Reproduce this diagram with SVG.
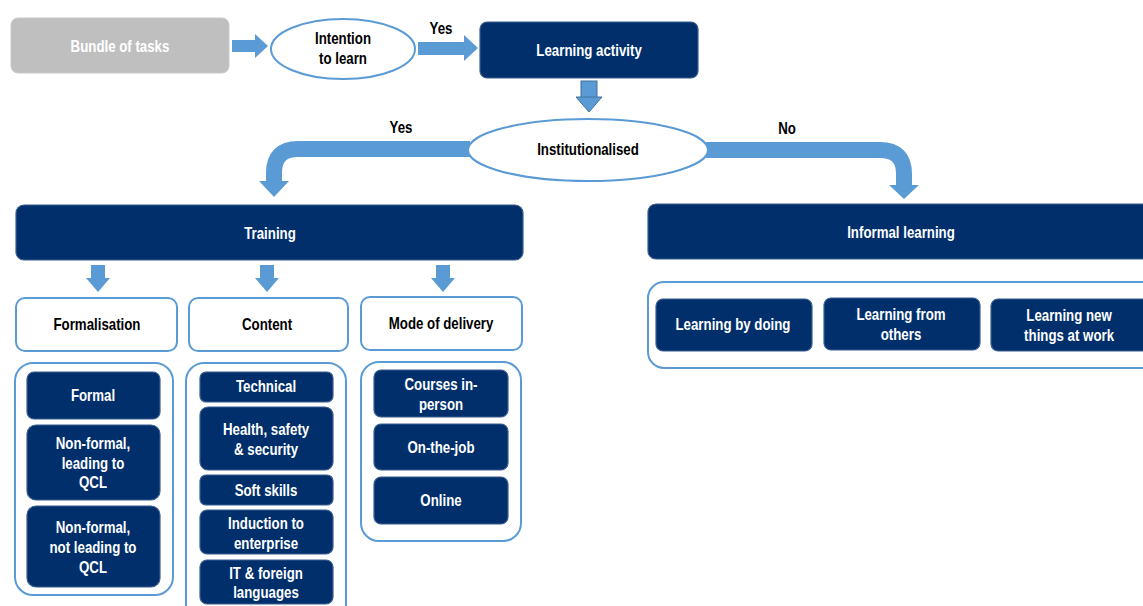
<svg xmlns="http://www.w3.org/2000/svg" width="1143" height="606" viewBox="0 0 1143 606">
  <style>
    text { font-family: "Liberation Sans", Arial, sans-serif; font-weight: bold; font-size: 16px; text-anchor: middle;
           transform-box: fill-box; transform-origin: center; transform: scaleX(0.83); }
    .navy { fill: #002F6C; stroke: #3A5F8F; stroke-width: 1.2; }
    .grey { fill: #BFBFBF; stroke: #C8C8C8; stroke-width: 1; }
    .outline { fill: #FFFFFF; stroke: #5B9BD5; stroke-width: 2; }
    .wt { fill: #FFFFFF; }
    .bk { fill: #000000; }
    .shaft { fill: none; stroke: #5B9BD5; stroke-width: 16; }
    .head { fill: #5B9BD5; }
  </style>
  <rect width="1143" height="606" fill="#FFFFFF"/>

  <!-- connectors -->
  <g id="connectors">
    <!-- bundle -> intention -->
    <rect class="head" x="232" y="40" width="24" height="12"/>
    <polygon class="head" points="255,34 255,58 268,46"/>
    <!-- intention -> learning activity -->
    <rect class="head" x="418" y="42" width="47" height="13"/>
    <polygon class="head" points="464,35 464,61 478,48"/>
    <text class="bk" x="441" y="34">Yes</text>
    <!-- learning activity -> institutionalised -->
    <rect class="head" x="581" y="81" width="16" height="17" stroke="#41719C" stroke-width="1"/>
    <polygon class="head" points="576,97 602,97 589,112" stroke="#41719C" stroke-width="1"/>
    <!-- institutionalised: yes -> training -->
    <path class="shaft" d="M 470 149 H 298 Q 274 149 274 173 V 182"/>
    <polygon class="head" points="259,181 289,181 274,197"/>
    <text class="bk" x="401" y="133">Yes</text>
    <!-- institutionalised: no -> informal learning -->
    <path class="shaft" d="M 706 150 H 880 Q 904 150 904 174 V 186"/>
    <polygon class="head" points="889,185 919,185 904,199"/>
    <text class="bk" x="787" y="134">No</text>
    <!-- training -> categories -->
    <rect class="head" x="91" y="265" width="14" height="14"/>
    <polygon class="head" points="86,278 110,278 98,292"/>
    <rect class="head" x="260" y="265" width="14" height="14"/>
    <polygon class="head" points="255,278 279,278 267,292"/>
    <rect class="head" x="436" y="265" width="14" height="14"/>
    <polygon class="head" points="431,278 455,278 443,292"/>
  </g>

  <g id="bundle">
    <rect class="grey" x="11" y="18" width="218" height="55" rx="7"/>
    <text class="wt" x="120" y="52">Bundle of tasks</text>
  </g>

  <g id="intention">
    <ellipse class="outline" cx="343" cy="49" rx="72" ry="30"/>
    <text class="bk" x="343" y="44">Intention</text>
    <text class="bk" x="343" y="64">to learn</text>
  </g>

  <g id="learning-activity">
    <rect class="navy" x="480" y="22" width="218" height="56" rx="7"/>
    <text class="wt" x="589" y="56">Learning activity</text>
  </g>

  <g id="institutionalised">
    <ellipse class="outline" cx="588" cy="150" rx="120" ry="31"/>
    <text class="bk" x="588" y="155">Institutionalised</text>
  </g>

  <g id="training">
    <rect class="navy" x="16" y="205" width="507" height="55" rx="8"/>
    <text class="wt" x="270" y="239">Training</text>
  </g>

  <g id="informal-learning">
    <rect class="navy" x="648" y="204" width="510" height="55" rx="8"/>
    <text class="wt" x="901" y="238">Informal learning</text>
  </g>

  <!-- Formalisation column -->
  <g id="formalisation">
    <rect class="outline" x="16" y="298" width="161" height="53" rx="9"/>
    <text class="bk" x="97" y="330">Formalisation</text>
  </g>
  <g id="formalisation-list">
    <rect class="outline" x="15" y="363" width="158" height="232" rx="18"/>
    <g id="formal">
      <rect class="navy" x="27" y="372" width="133" height="47" rx="7"/>
      <text class="wt" x="93" y="401">Formal</text>
    </g>
    <g id="non-formal-qcl">
      <rect class="navy" x="27" y="425" width="133" height="75" rx="9"/>
      <text class="wt" x="93" y="449">Non-formal,</text>
      <text class="wt" x="93" y="469">leading to</text>
      <text class="wt" x="93" y="488">QCL</text>
    </g>
    <g id="non-formal-no-qcl">
      <rect class="navy" x="27" y="506" width="133" height="81" rx="9"/>
      <text class="wt" x="93" y="533">Non-formal,</text>
      <text class="wt" x="93" y="553">not leading to</text>
      <text class="wt" x="93" y="573">QCL</text>
    </g>
  </g>

  <!-- Content column -->
  <g id="content">
    <rect class="outline" x="189" y="298" width="159" height="53" rx="9"/>
    <text class="bk" x="267" y="330">Content</text>
  </g>
  <g id="content-list">
    <rect class="outline" x="186" y="363" width="160" height="260" rx="18"/>
    <g id="technical">
      <rect class="navy" x="200" y="372" width="133" height="30" rx="6"/>
      <text class="wt" x="266" y="392">Technical</text>
    </g>
    <g id="health">
      <rect class="navy" x="200" y="407" width="133" height="63" rx="8"/>
      <text class="wt" x="266" y="435">Health, safety</text>
      <text class="wt" x="266" y="455">&amp; security</text>
    </g>
    <g id="soft-skills">
      <rect class="navy" x="200" y="475" width="133" height="30" rx="6"/>
      <text class="wt" x="266" y="496">Soft skills</text>
    </g>
    <g id="induction">
      <rect class="navy" x="200" y="510" width="133" height="44" rx="7"/>
      <text class="wt" x="266" y="529">Induction to</text>
      <text class="wt" x="266" y="549">enterprise</text>
    </g>
    <g id="it-languages">
      <rect class="navy" x="200" y="560" width="133" height="44" rx="7"/>
      <text class="wt" x="266" y="579">IT &amp; foreign</text>
      <text class="wt" x="266" y="598">languages</text>
    </g>
  </g>

  <!-- Mode of delivery column -->
  <g id="mode-of-delivery">
    <rect class="outline" x="361" y="297" width="161" height="53" rx="9"/>
    <text class="bk" x="441" y="329">Mode of delivery</text>
  </g>
  <g id="delivery-list">
    <rect class="outline" x="361" y="362" width="160" height="179" rx="18"/>
    <g id="courses">
      <rect class="navy" x="374" y="370" width="134" height="47" rx="7"/>
      <text class="wt" x="441" y="390">Courses in-</text>
      <text class="wt" x="441" y="410">person</text>
    </g>
    <g id="on-the-job">
      <rect class="navy" x="374" y="424" width="134" height="46" rx="7"/>
      <text class="wt" x="441" y="453">On-the-job</text>
    </g>
    <g id="online">
      <rect class="navy" x="374" y="477" width="134" height="47" rx="7"/>
      <text class="wt" x="441" y="506">Online</text>
    </g>
  </g>

  <!-- Informal learning forms -->
  <g id="informal-list">
    <rect class="outline" x="648" y="282" width="520" height="86" rx="16"/>
    <g id="by-doing">
      <rect class="navy" x="656" y="299" width="156" height="52" rx="7"/>
      <text class="wt" x="733" y="330">Learning by doing</text>
    </g>
    <g id="from-others">
      <rect class="navy" x="824" y="298" width="156" height="52" rx="7"/>
      <text class="wt" x="901" y="320">Learning from</text>
      <text class="wt" x="901" y="340">others</text>
    </g>
    <g id="new-things">
      <rect class="navy" x="991" y="299" width="160" height="52" rx="7"/>
      <text class="wt" x="1069" y="321">Learning new</text>
      <text class="wt" x="1069" y="341">things at work</text>
    </g>
  </g>
</svg>
